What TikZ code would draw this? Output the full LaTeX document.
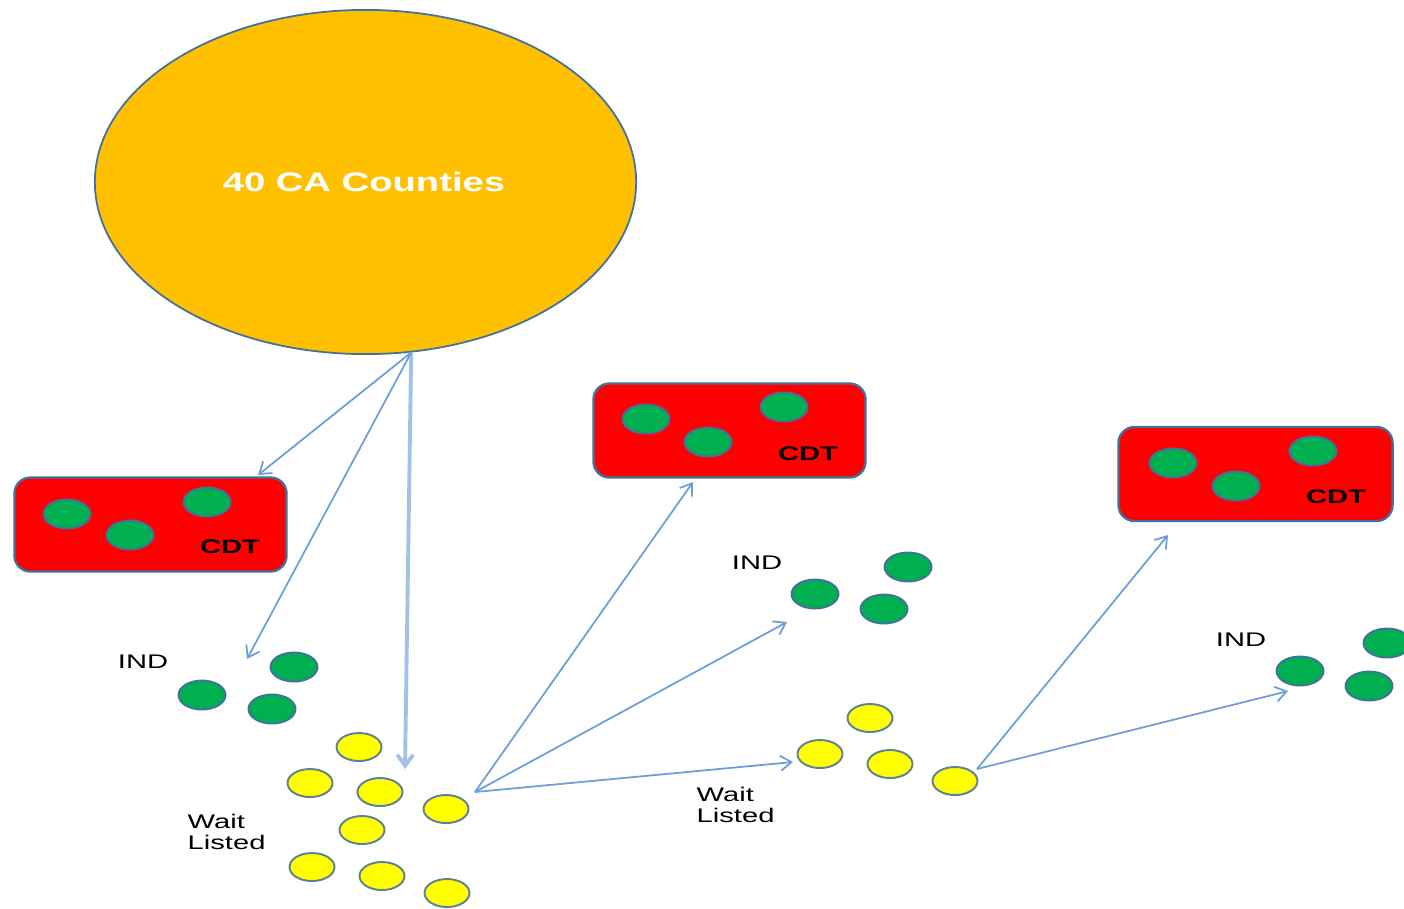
\documentclass[tikz,border=0pt]{standalone}
\usepackage{fontspec}
\setmainfont{Liberation Sans}
\usetikzlibrary{shapes.geometric,arrows.meta}
\definecolor{gold}{HTML}{FFC000}
\definecolor{edge}{HTML}{41719C}
\definecolor{yedge}{HTML}{5F8098}
\definecolor{linkblue}{HTML}{6A9FD8}
\definecolor{palelink}{HTML}{A3C1E6}
\definecolor{dotgreen}{HTML}{00B050}
\definecolor{dotyellow}{HTML}{FFFF00}
\definecolor{boxred}{HTML}{FF0000}
% wide lettering
\newcommand{\widetxt}[1]{\scalebox{1.48}[1]{#1}}

\begin{document}
\begin{tikzpicture}[x=0.01cm,y=-0.01cm,
  gdot/.style={ellipse,draw=edge,line width=0.55pt,fill=dotgreen,
    minimum width=0.47cm,minimum height=0.29cm,inner sep=0},
  ydot/.style={ellipse,draw=yedge,line width=0.55pt,fill=dotyellow,
    minimum width=0.45cm,minimum height=0.28cm,inner sep=0},
  cdtbox/.style={rectangle,rounded corners=0.16cm,draw=edge,line width=0.65pt,
    fill=boxred,minimum width=2.72cm,minimum height=0.94cm,inner sep=0},
  lbl/.style={font=\fontsize{5.6}{6.2}\selectfont,inner sep=0,text=black},
  cdtlbl/.style={font=\bfseries\fontsize{5.6}{6.2}\selectfont,inner sep=0,text=black},
  link/.style={draw=linkblue,line width=0.5pt,
    -{Straight Barb[length=0.11cm,width=0.15cm]}},
  biglink/.style={draw=palelink,line width=1.1pt,
    -{Straight Barb[length=0.11cm,width=0.16cm]}},
]
\useasboundingbox (0,0) rectangle (1404,908);
\clip (0,0) rectangle (1404,908);

% main population
\node[ellipse,draw=edge,line width=0.5pt,fill=gold,minimum width=5.41cm,
  minimum height=3.44cm,inner sep=0] (big) at (365.5,182) {};
\node[font=\bfseries\fontsize{7.6}{8}\selectfont,text=white,inner sep=0]
  (bigtxt) at (364,182) {\scalebox{1.43}[1]{40 CA Counties}};

% CDT boxes
\node[cdtbox] (cdt1) at (150.5,524.5) {};
\node[gdot] (c1a) at (67,514) {};
\node[gdot] (c1b) at (130,535) {};
\node[gdot] (c1c) at (207,502) {};
\node[cdtlbl] (c1t) at (230,547) {\widetxt{CDT}};

\node[cdtbox] (cdt2) at (729.5,430.5) {};
\node[gdot] (c2a) at (646,419) {};
\node[gdot] (c2b) at (708,442) {};
\node[gdot] (c2c) at (784,407) {};
\node[cdtlbl] (c2t) at (808,454) {\widetxt{CDT}};

\node[cdtbox,minimum width=2.74cm] (cdt3) at (1255.5,474) {};
\node[gdot] (c3a) at (1173,463) {};
\node[gdot] (c3b) at (1236,486) {};
\node[gdot] (c3c) at (1313,451) {};
\node[cdtlbl] (c3t) at (1336,497) {\widetxt{CDT}};

% IND groups
\node[lbl] (ind1) at (143,662) {\widetxt{IND}};
\node[gdot] (i1a) at (294,667) {};
\node[gdot] (i1b) at (202,695) {};
\node[gdot] (i1c) at (272,709) {};

\node[lbl] (ind2) at (757,563) {\widetxt{IND}};
\node[gdot] (i2a) at (908,567) {};
\node[gdot] (i2b) at (815,594) {};
\node[gdot] (i2c) at (884,609) {};

\node[lbl] (ind3) at (1241,640) {\widetxt{IND}};
\node[gdot] (i3a) at (1387,643) {};
\node[gdot] (i3b) at (1300,671) {};
\node[gdot] (i3c) at (1369,686) {};

% wait listed groups
\node[ydot] (y1) at (359,747) {};
\node[ydot] (y2) at (310,783) {};
\node[ydot] (y3) at (380,792) {};
\node[ydot] (y4) at (446,809) {};
\node[ydot] (y5) at (362,830) {};
\node[ydot] (y6) at (312,867) {};
\node[ydot] (y7) at (382,876) {};
\node[ydot] (y8) at (447,893) {};
\node[lbl,anchor=west,align=left] (wl1) at (187,832) {\widetxt{Wait}\\\widetxt{Listed}};

\node[ydot] (w1) at (870,718) {};
\node[ydot] (w2) at (820,754) {};
\node[ydot] (w3) at (890,764) {};
\node[ydot] (w4) at (955,781) {};
\node[lbl,anchor=west,align=left] (wl2) at (696,805) {\widetxt{Wait}\\\widetxt{Listed}};

% connector hubs and tips
\coordinate (hubA) at (big.-75);
\coordinate (hubB) at (475,792);
\coordinate (hubC) at (977,769);
\coordinate (tA1) at (258,475);
\coordinate (tA2) at (247,659);
\coordinate (tA3) at (405,769);
\coordinate (tB1) at (693,482);
\coordinate (tB2) at (787,622);
\coordinate (tB3) at (793,762);
\coordinate (tC1) at (1168,535);
\coordinate (tC2) at (1288,691);

\draw[biglink] (hubA) -- (tA3);
\draw[link] (hubA) -- (tA1);
\draw[link] (hubA) -- (tA2);
\draw[link] (hubB) -- (tB1);
\draw[link] (hubB) -- (tB2);
\draw[link] (hubB) -- (tB3);
\draw[link] (hubC) -- (tC1);
\draw[link] (hubC) -- (tC2);
\end{tikzpicture}
\end{document}
